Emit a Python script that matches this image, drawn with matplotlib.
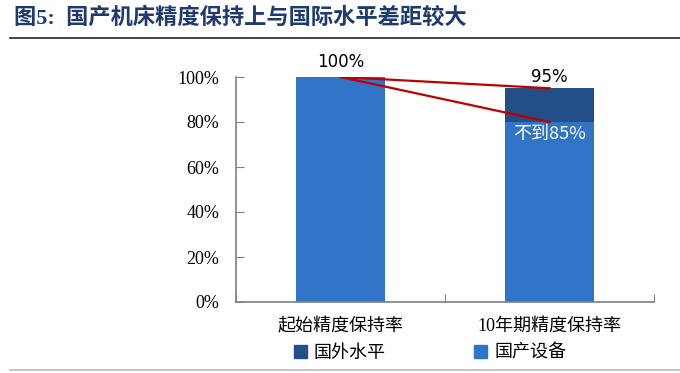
import matplotlib.pyplot as plt
import numpy as np
from matplotlib.lines import Line2D
from matplotlib.patches import Patch

categories = ["起始精度保持率", "10年期精度保持率"]
domestic = [100, 80]       # 国产设备
foreign_extra = [0, 15]    # 国外水平 (on top of domestic)
foreign_total = [100, 95]
line_start = 100
line_ends = [95, 80]

blue = "#3174C5"
dark = "#234E86"
red = "#C00000"
cjk = ["Liberation Serif", "Noto Sans CJK SC"]

fig = plt.figure(figsize=(6.8, 3.73), dpi=100)
ax = fig.add_axes([236/680, 71/373, 418/680, 225/373])

x = np.arange(len(categories))
ax.bar(x, domestic, width=0.426, color=blue, zorder=2)
ax.bar(x, foreign_extra, width=0.426, bottom=domestic, color=dark, zorder=2)

for end in line_ends:
    ax.plot([x[0], x[1]], [line_start, end], color=red, lw=1.6, zorder=3)

ax.text(x[0], 102.5, "100%", ha="center", va="bottom", fontsize=12,
        family=["DejaVu Sans"], color="black")
ax.text(x[1], 96, "95%", ha="center", va="bottom", fontsize=12,
        family=["DejaVu Sans"], color="black")
ax.text(x[1], 74.5, "不到85%", ha="center", va="center", fontsize=13,
        family=["Noto Sans CJK SC"], color="white")

ax.set_xlim(-0.5, 1.5)
ax.set_ylim(0, 100)
ax.set_yticks(np.arange(0, 101, 20))
ax.set_yticklabels([f"{v}%" for v in range(0, 101, 20)], family=cjk, fontsize=13)
ax.set_xticks([-0.5, 0.5, 1.5])
ax.set_xticklabels([])
ax.tick_params(axis="y", direction="in", length=6, color="#808080", pad=12)
ax.tick_params(axis="x", direction="in", length=6, color="#808080")
for s in ["top", "right"]:
    ax.spines[s].set_visible(False)
for s in ["left", "bottom"]:
    ax.spines[s].set_color("#808080")
    ax.spines[s].set_linewidth(1.2)

for xi, c in zip(x, categories):
    ax.text(xi, -7, c, ha="center", va="top", fontsize=13, family=cjk,
            transform=ax.transData, clip_on=False)

handles = [Patch(color=dark), Patch(color=blue)]
fig.legend(handles, ["国外水平", "国产设备"], loc="center",
           bbox_to_anchor=(430/680, 1 - 353/373), ncol=2, frameon=False,
           prop={"family": cjk, "size": 13}, handlelength=0.7, handleheight=0.7,
           handletextpad=0.4, columnspacing=4.9)

fig.text(14/680, 1 - 18/373, "图5:  国产机床精度保持上与国际水平差距较大",
         ha="left", va="center", fontsize=16, fontweight="bold",
         family=cjk, color="#1F3A6E")
fig.add_artist(Line2D([10/680, 1], [1 - 38/373] * 2, color="#222222", lw=1.2))
fig.add_artist(Line2D([10/680, 1], [1 - 370/373] * 2, color="#BBBBBB", lw=1.2))

fig.savefig("out.png", dpi=100)
